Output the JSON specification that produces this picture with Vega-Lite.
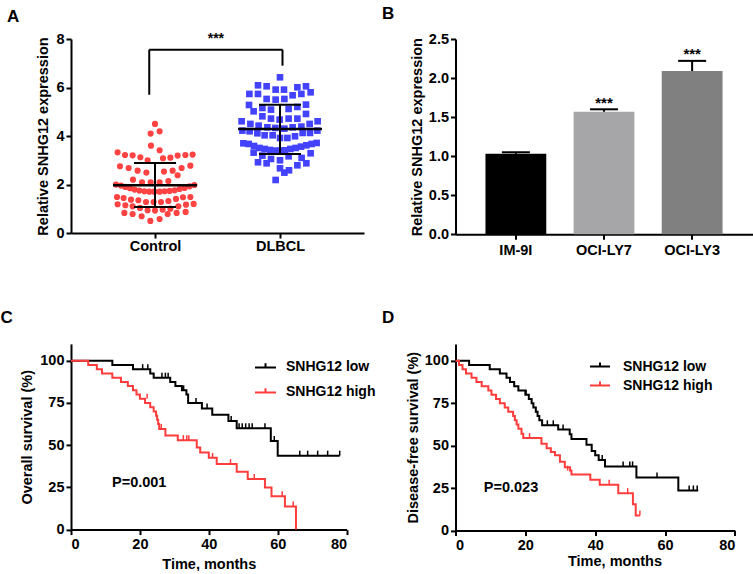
{
  "$schema": "https://vega.github.io/schema/vega-lite/v6.json",
  "padding": {"left": 0, "top": 5, "right": 0, "bottom": 0},
  "columns": 2,
  "align": "each",
  "bounds": "flush",
  "spacing": {"row": 108.9, "column": 91.5},
  "resolve": {"scale": {"color": "independent"}, "legend": {"color": "independent"}},
  "config": {
    "font": "Liberation Sans",
    "view": {"stroke": null},
    "axis": {"domainColor": "#000", "domainWidth": 2, "tickColor": "#000", "tickWidth": 2, "tickSize": 5, "labelFontWeight": "bold", "labelFontSize": 14.5, "labelColor": "#000", "titleFontWeight": "bold", "titleFontSize": 14.5, "titleColor": "#000", "grid": false, "labelPadding": 2, "titlePadding": 5},
    "title": {"fontSize": 17, "fontWeight": "bold", "color": "#000", "anchor": "start", "frame": "group"}
  },
  "datasets": {
    "control": [
      {"pos":1.000,"expr":4.497},{"pos":0.965,"expr":4.098},{"pos":1.037,"expr":4.194},{"pos":0.968,"expr":3.603},{"pos":1.037,"expr":3.411},
      {"pos":0.701,"expr":3.328},{"pos":0.760,"expr":3.218},{"pos":0.821,"expr":3.204},{"pos":0.883,"expr":3.122},{"pos":0.941,"expr":2.998},{"pos":1.064,"expr":3.081},{"pos":1.123,"expr":3.108},{"pos":1.181,"expr":3.191},{"pos":1.243,"expr":3.218},{"pos":1.301,"expr":3.232},
      {"pos":0.720,"expr":2.751},{"pos":0.789,"expr":2.682},{"pos":0.861,"expr":2.572},{"pos":0.931,"expr":2.490},{"pos":1.072,"expr":2.531},{"pos":1.141,"expr":2.572},{"pos":1.213,"expr":2.682},{"pos":1.283,"expr":2.778},{"pos":1.181,"expr":2.380},
      {"pos":0.824,"expr":2.201},{"pos":0.896,"expr":2.091},{"pos":0.965,"expr":2.091},{"pos":1.037,"expr":2.091},{"pos":1.107,"expr":2.146},
      {"pos":0.688,"expr":1.995},{"pos":0.728,"expr":1.954},{"pos":0.763,"expr":1.899},{"pos":0.800,"expr":1.844},{"pos":0.837,"expr":1.789},{"pos":0.875,"expr":1.748},{"pos":0.915,"expr":1.720},{"pos":0.955,"expr":1.706},{"pos":0.995,"expr":1.706},{"pos":1.037,"expr":1.706},{"pos":1.077,"expr":1.720},{"pos":1.117,"expr":1.734},{"pos":1.157,"expr":1.761},{"pos":1.197,"expr":1.816},{"pos":1.237,"expr":1.858},{"pos":1.277,"expr":1.926},{"pos":1.315,"expr":1.981},
      {"pos":0.696,"expr":1.486},{"pos":0.749,"expr":1.445},{"pos":0.808,"expr":1.376},{"pos":0.867,"expr":1.349},{"pos":0.928,"expr":1.280},{"pos":0.989,"expr":1.280},{"pos":1.048,"expr":1.280},{"pos":1.107,"expr":1.321},{"pos":1.168,"expr":1.404},{"pos":1.224,"expr":1.473},{"pos":1.283,"expr":1.486},
      {"pos":0.701,"expr":1.184},{"pos":0.763,"expr":1.143},{"pos":0.821,"expr":1.101},{"pos":0.880,"expr":1.033},{"pos":0.941,"expr":0.937},{"pos":1.000,"expr":0.923},{"pos":1.061,"expr":0.964},{"pos":1.123,"expr":1.005},{"pos":1.187,"expr":1.101},{"pos":1.248,"expr":1.170},{"pos":1.309,"expr":1.198},
      {"pos":0.755,"expr":0.827},{"pos":0.821,"expr":0.785},{"pos":0.893,"expr":0.689},{"pos":1.037,"expr":0.579},{"pos":1.101,"expr":0.785},{"pos":1.173,"expr":0.827},{"pos":1.245,"expr":0.868},{"pos":0.963,"expr":0.497}
    ],
    "dlbcl": [
      {"pos":2.000,"expr":6.421},
      {"pos":1.824,"expr":6.091},{"pos":1.893,"expr":6.050},{"pos":1.965,"expr":5.912},{"pos":2.032,"expr":5.912},{"pos":2.139,"expr":6.009},{"pos":2.208,"expr":6.050},{"pos":2.245,"expr":5.802},
      {"pos":1.755,"expr":5.734},{"pos":1.824,"expr":5.734},{"pos":1.893,"expr":5.528},{"pos":1.965,"expr":5.500},{"pos":2.035,"expr":5.528},{"pos":2.101,"expr":5.679},{"pos":2.171,"expr":5.734},
      {"pos":1.752,"expr":5.280},{"pos":1.789,"expr":5.019},{"pos":1.859,"expr":5.156},{"pos":1.928,"expr":5.088},{"pos":2.069,"expr":5.115},{"pos":2.139,"expr":5.198},{"pos":2.208,"expr":5.294},
      {"pos":1.859,"expr":4.813},{"pos":1.928,"expr":4.717},{"pos":1.997,"expr":4.675},{"pos":2.069,"expr":4.717},{"pos":2.139,"expr":4.717},{"pos":2.208,"expr":4.909},
      {"pos":1.693,"expr":4.607},{"pos":1.763,"expr":4.497},{"pos":1.829,"expr":4.428},{"pos":1.899,"expr":4.359},{"pos":1.963,"expr":4.332},{"pos":2.035,"expr":4.304},{"pos":2.101,"expr":4.359},{"pos":2.171,"expr":4.387},{"pos":2.237,"expr":4.497},{"pos":2.301,"expr":4.607},
      {"pos":1.699,"expr":4.222},{"pos":1.757,"expr":4.194},{"pos":1.819,"expr":4.112},{"pos":1.877,"expr":4.029},{"pos":1.941,"expr":4.029},{"pos":2.000,"expr":3.919},{"pos":2.059,"expr":3.919},{"pos":2.120,"expr":3.988},{"pos":2.181,"expr":4.126},{"pos":2.240,"expr":4.126},{"pos":2.299,"expr":4.222},
      {"pos":1.707,"expr":3.699},{"pos":1.749,"expr":3.672},{"pos":1.792,"expr":3.589},{"pos":1.835,"expr":3.507},{"pos":1.877,"expr":3.466},{"pos":1.920,"expr":3.425},{"pos":1.963,"expr":3.397},{"pos":2.000,"expr":3.397},{"pos":2.040,"expr":3.411},{"pos":2.083,"expr":3.466},{"pos":2.125,"expr":3.507},{"pos":2.168,"expr":3.562},{"pos":2.211,"expr":3.617},{"pos":2.253,"expr":3.672},{"pos":2.293,"expr":3.713},
      {"pos":1.789,"expr":3.314},{"pos":1.859,"expr":3.191},{"pos":1.928,"expr":3.053},{"pos":2.000,"expr":2.998},{"pos":2.069,"expr":3.163},{"pos":2.173,"expr":3.095},{"pos":2.245,"expr":3.287},
      {"pos":1.824,"expr":2.916},{"pos":1.893,"expr":2.875},{"pos":2.139,"expr":2.792},{"pos":2.211,"expr":2.875},
      {"pos":2.000,"expr":2.668},{"pos":2.072,"expr":2.586},{"pos":2.035,"expr":2.490},
      {"pos":1.965,"expr":2.187}
    ],
    "summary": [
      {"group":"Control","pos":1,"mean":1.97,"sdLow":1.07,"sdHigh":2.89},
      {"group":"DLBCL","pos":2,"mean":4.29,"sdLow":3.26,"sdHigh":5.29}
    ],
    "bracket": [
      {"left":0.954,"right":2.02,"mid":1.487,"top":7.56,"leftEnd":5.7,"rightEnd":6.9,"label":"***"}
    ],
    "cells": [
      {"line":"IM-9I","mean":1.03,"upper":1.05,"sig":""},
      {"line":"OCI-LY7","mean":1.57,"upper":1.60,"sig":"***"},
      {"line":"OCI-LY3","mean":2.09,"upper":2.22,"sig":"***"}
    ],
    "osCurve": [
      {"group":"SNHG12 low","t":0,"s":100},{"group":"SNHG12 low","t":12,"s":97.5},{"group":"SNHG12 low","t":18,"s":95},{"group":"SNHG12 low","t":23,"s":92.5},{"group":"SNHG12 low","t":24,"s":90},{"group":"SNHG12 low","t":28.8,"s":87.5},{"group":"SNHG12 low","t":30.3,"s":85},{"group":"SNHG12 low","t":32.2,"s":82.5},{"group":"SNHG12 low","t":33.5,"s":80},{"group":"SNHG12 low","t":34,"s":75},{"group":"SNHG12 low","t":38,"s":71.8},{"group":"SNHG12 low","t":41,"s":68},{"group":"SNHG12 low","t":45.7,"s":64.3},{"group":"SNHG12 low","t":48.1,"s":60},{"group":"SNHG12 low","t":58,"s":52.5},{"group":"SNHG12 low","t":60,"s":43.8},{"group":"SNHG12 low","t":78,"s":43.8},
      {"group":"SNHG12 high","t":0,"s":100},{"group":"SNHG12 high","t":5,"s":97.5},{"group":"SNHG12 high","t":7.5,"s":95},{"group":"SNHG12 high","t":9,"s":92.5},{"group":"SNHG12 high","t":12,"s":90},{"group":"SNHG12 high","t":14.5,"s":87.5},{"group":"SNHG12 high","t":16.5,"s":85},{"group":"SNHG12 high","t":18,"s":82.5},{"group":"SNHG12 high","t":19,"s":80},{"group":"SNHG12 high","t":20,"s":77.5},{"group":"SNHG12 high","t":21.5,"s":75},{"group":"SNHG12 high","t":23,"s":72.5},{"group":"SNHG12 high","t":24,"s":70},{"group":"SNHG12 high","t":24.7,"s":67.5},{"group":"SNHG12 high","t":25,"s":65},{"group":"SNHG12 high","t":25.3,"s":62.5},{"group":"SNHG12 high","t":25.6,"s":59.6},{"group":"SNHG12 high","t":27.4,"s":55.8},{"group":"SNHG12 high","t":31,"s":53},{"group":"SNHG12 high","t":36.5,"s":48.7},{"group":"SNHG12 high","t":37.5,"s":45.7},{"group":"SNHG12 high","t":40,"s":42.5},{"group":"SNHG12 high","t":42.3,"s":38.8},{"group":"SNHG12 high","t":48.1,"s":34.2},{"group":"SNHG12 high","t":51.3,"s":30},{"group":"SNHG12 high","t":56.3,"s":25},{"group":"SNHG12 high","t":58.2,"s":19.8},{"group":"SNHG12 high","t":62.1,"s":13.7},{"group":"SNHG12 high","t":65.3,"s":0}
    ],
    "osCensor": [
      {"group":"SNHG12 low","t":20.8,"s":95},{"group":"SNHG12 low","t":22.3,"s":95},{"group":"SNHG12 low","t":26.4,"s":90},{"group":"SNHG12 low","t":27.4,"s":90},{"group":"SNHG12 low","t":28.2,"s":90},{"group":"SNHG12 low","t":32.7,"s":82.5},{"group":"SNHG12 low","t":36.3,"s":75},{"group":"SNHG12 low","t":39.5,"s":71.8},{"group":"SNHG12 low","t":46.5,"s":64.3},{"group":"SNHG12 low","t":48.8,"s":60},{"group":"SNHG12 low","t":49.7,"s":60},{"group":"SNHG12 low","t":50.7,"s":60},{"group":"SNHG12 low","t":51.7,"s":60},{"group":"SNHG12 low","t":52.6,"s":60},{"group":"SNHG12 low","t":56.3,"s":60},{"group":"SNHG12 low","t":59,"s":52.5},{"group":"SNHG12 low","t":66.4,"s":43.8},{"group":"SNHG12 low","t":68.7,"s":43.8},{"group":"SNHG12 low","t":71.6,"s":43.8},{"group":"SNHG12 low","t":74.5,"s":43.8},{"group":"SNHG12 low","t":78,"s":43.8},
      {"group":"SNHG12 high","t":22.1,"s":77.5},{"group":"SNHG12 high","t":26.2,"s":59.6},{"group":"SNHG12 high","t":32.6,"s":53},{"group":"SNHG12 high","t":33.6,"s":53},{"group":"SNHG12 high","t":34.2,"s":53},{"group":"SNHG12 high","t":41.1,"s":42.5},{"group":"SNHG12 high","t":46.3,"s":38.8},{"group":"SNHG12 high","t":53.2,"s":30},{"group":"SNHG12 high","t":61.3,"s":19.8},{"group":"SNHG12 high","t":64.5,"s":13.7}
    ],
    "dfsCurve": [
      {"group":"SNHG12 low","t":0,"s":100},{"group":"SNHG12 low","t":3.9,"s":97.5},{"group":"SNHG12 low","t":9.8,"s":95},{"group":"SNHG12 low","t":12.7,"s":92.5},{"group":"SNHG12 low","t":14.6,"s":90},{"group":"SNHG12 low","t":15.6,"s":87.5},{"group":"SNHG12 low","t":16.8,"s":85},{"group":"SNHG12 low","t":18,"s":82.5},{"group":"SNHG12 low","t":20,"s":80},{"group":"SNHG12 low","t":21,"s":77.5},{"group":"SNHG12 low","t":21.8,"s":75},{"group":"SNHG12 low","t":22.3,"s":72.5},{"group":"SNHG12 low","t":23,"s":70},{"group":"SNHG12 low","t":23.5,"s":67.5},{"group":"SNHG12 low","t":24,"s":65},{"group":"SNHG12 low","t":24.8,"s":62},{"group":"SNHG12 low","t":29.4,"s":59.6},{"group":"SNHG12 low","t":32.7,"s":56.7},{"group":"SNHG12 low","t":33.2,"s":53.9},{"group":"SNHG12 low","t":37.5,"s":50.5},{"group":"SNHG12 low","t":39,"s":46.8},{"group":"SNHG12 low","t":40,"s":44.3},{"group":"SNHG12 low","t":41,"s":41.5},{"group":"SNHG12 low","t":42.8,"s":37.8},{"group":"SNHG12 low","t":51.8,"s":31.2},{"group":"SNHG12 low","t":63.8,"s":23.6},{"group":"SNHG12 low","t":69.5,"s":23.6},
      {"group":"SNHG12 high","t":0,"s":100},{"group":"SNHG12 high","t":1,"s":97.5},{"group":"SNHG12 high","t":2,"s":95},{"group":"SNHG12 high","t":3,"s":92.5},{"group":"SNHG12 high","t":4.6,"s":90},{"group":"SNHG12 high","t":6,"s":87.5},{"group":"SNHG12 high","t":7.5,"s":85},{"group":"SNHG12 high","t":9.4,"s":82.5},{"group":"SNHG12 high","t":10.3,"s":80},{"group":"SNHG12 high","t":11.6,"s":77.5},{"group":"SNHG12 high","t":12.7,"s":75},{"group":"SNHG12 high","t":14.1,"s":72.5},{"group":"SNHG12 high","t":15.1,"s":70},{"group":"SNHG12 high","t":16.5,"s":67.5},{"group":"SNHG12 high","t":17,"s":65},{"group":"SNHG12 high","t":17.5,"s":62.5},{"group":"SNHG12 high","t":18,"s":60},{"group":"SNHG12 high","t":18.9,"s":57},{"group":"SNHG12 high","t":19.4,"s":54.5},{"group":"SNHG12 high","t":24.6,"s":51.2},{"group":"SNHG12 high","t":26.1,"s":48.5},{"group":"SNHG12 high","t":27.3,"s":46.3},{"group":"SNHG12 high","t":28.5,"s":44.3},{"group":"SNHG12 high","t":29.9,"s":40.5},{"group":"SNHG12 high","t":31.3,"s":37.3},{"group":"SNHG12 high","t":32.8,"s":35.3},{"group":"SNHG12 high","t":33.2,"s":33},{"group":"SNHG12 high","t":38.6,"s":29.9},{"group":"SNHG12 high","t":41.3,"s":27},{"group":"SNHG12 high","t":46.6,"s":22},{"group":"SNHG12 high","t":50.8,"s":15.5},{"group":"SNHG12 high","t":51.6,"s":8.8},{"group":"SNHG12 high","t":52.8,"s":8.8}
    ],
    "dfsCensor": [
      {"group":"SNHG12 low","t":20.2,"s":80},{"group":"SNHG12 low","t":26.3,"s":62},{"group":"SNHG12 low","t":28,"s":62},{"group":"SNHG12 low","t":30.8,"s":59.6},{"group":"SNHG12 low","t":42,"s":41.5},{"group":"SNHG12 low","t":48,"s":37.8},{"group":"SNHG12 low","t":49.9,"s":37.8},{"group":"SNHG12 low","t":50.7,"s":37.8},{"group":"SNHG12 low","t":57.7,"s":31.2},{"group":"SNHG12 low","t":66.9,"s":23.6},{"group":"SNHG12 low","t":68.1,"s":23.6},{"group":"SNHG12 low","t":69.2,"s":23.6},
      {"group":"SNHG12 high","t":21.2,"s":54.5},{"group":"SNHG12 high","t":32.1,"s":35.3},{"group":"SNHG12 high","t":44,"s":27},{"group":"SNHG12 high","t":49.3,"s":22},{"group":"SNHG12 high","t":52.8,"s":8.8}
    ]
  },
  "concat": [
    {
      "width": 293, "height": 194,
      "title": {"text": "A", "dx": -64, "offset": 5},
      "layer": [
        {
          "data": {"name": "control"},
          "mark": {"type": "point", "shape": "circle", "filled": true, "color": "#ff4242", "opacity": 1, "size": 38},
          "encoding": {
            "x": {"field": "pos", "type": "quantitative", "scale": {"domain": [0.328, 2.672], "nice": false, "zero": false}, "axis": {"values": [1, 2], "labelExpr": "datum.value == 1 ? 'Control' : 'DLBCL'", "title": null, "labelPadding": 1}},
            "y": {"field": "expr", "type": "quantitative", "scale": {"domain": [0, 8], "nice": false}, "axis": {"values": [0, 2, 4, 6, 8], "title": "Relative SNHG12 expression", "titlePadding": 5}}
          }
        },
        {
          "data": {"name": "dlbcl"},
          "mark": {"type": "point", "shape": "square", "filled": true, "color": "#4242ff", "opacity": 1, "size": 44},
          "encoding": {
            "x": {"field": "pos", "type": "quantitative"},
            "y": {"field": "expr", "type": "quantitative"}
          }
        },
        {
          "data": {"name": "summary"},
          "mark": {"type": "tick", "orient": "horizontal", "size": 84, "thickness": 2.5, "color": "#000", "opacity": 1},
          "encoding": {"x": {"field": "pos", "type": "quantitative"}, "y": {"field": "mean", "type": "quantitative"}}
        },
        {
          "data": {"name": "summary"},
          "mark": {"type": "tick", "orient": "horizontal", "size": 42, "thickness": 2, "color": "#000", "opacity": 1},
          "encoding": {"x": {"field": "pos", "type": "quantitative"}, "y": {"field": "sdLow", "type": "quantitative"}}
        },
        {
          "data": {"name": "summary"},
          "mark": {"type": "tick", "orient": "horizontal", "size": 42, "thickness": 2, "color": "#000", "opacity": 1},
          "encoding": {"x": {"field": "pos", "type": "quantitative"}, "y": {"field": "sdHigh", "type": "quantitative"}}
        },
        {
          "data": {"name": "summary"},
          "mark": {"type": "rule", "strokeWidth": 2, "color": "#000"},
          "encoding": {"x": {"field": "pos", "type": "quantitative"}, "y": {"field": "sdLow", "type": "quantitative"}, "y2": {"field": "sdHigh"}}
        },
        {
          "data": {"name": "bracket"},
          "mark": {"type": "rule", "strokeWidth": 2, "color": "#000"},
          "encoding": {"x": {"field": "left", "type": "quantitative"}, "x2": {"field": "right"}, "y": {"field": "top", "type": "quantitative"}}
        },
        {
          "data": {"name": "bracket"},
          "mark": {"type": "rule", "strokeWidth": 2, "color": "#000"},
          "encoding": {"x": {"field": "left", "type": "quantitative"}, "y": {"field": "leftEnd", "type": "quantitative"}, "y2": {"field": "top"}}
        },
        {
          "data": {"name": "bracket"},
          "mark": {"type": "rule", "strokeWidth": 2, "color": "#000"},
          "encoding": {"x": {"field": "right", "type": "quantitative"}, "y": {"field": "rightEnd", "type": "quantitative"}, "y2": {"field": "top"}}
        },
        {
          "data": {"name": "bracket"},
          "mark": {"type": "text", "fontSize": 14, "fontWeight": "bold", "color": "#000", "baseline": "alphabetic", "dy": -7},
          "encoding": {"x": {"field": "mid", "type": "quantitative"}, "y": {"field": "top", "type": "quantitative"}, "text": {"field": "label"}}
        }
      ]
    },
    {
      "width": 297, "height": 195.3,
      "title": {"text": "B", "dx": -73.5, "offset": 8},
      "data": {"name": "cells"},
      "encoding": {
        "x": {"field": "line", "type": "nominal", "sort": null, "scale": {"paddingInner": 0.31, "paddingOuter": 0.34}, "axis": {"title": null, "labelAngle": 0, "labelPadding": 4}}
      },
      "layer": [
        {
          "mark": {"type": "bar"},
          "encoding": {
            "y": {"field": "mean", "type": "quantitative", "scale": {"domain": [0, 2.5], "nice": false}, "axis": {"values": [0, 0.5, 1, 1.5, 2, 2.5], "format": ".1f", "title": "Relative SNHG12 expression", "titlePadding": 4, "labelOverlap": false}},
            "color": {"field": "line", "type": "nominal", "scale": {"domain": ["IM-9I", "OCI-LY7", "OCI-LY3"], "range": ["#000000", "#a6a6a9", "#808080"]}, "legend": null}
          }
        },
        {
          "mark": {"type": "rule", "strokeWidth": 2, "color": "#000"},
          "encoding": {"y": {"field": "mean", "type": "quantitative", "axis": {"values": [0, 0.5, 1, 1.5, 2, 2.5], "format": ".1f", "title": "Relative SNHG12 expression", "titlePadding": 4, "labelOverlap": false}}, "y2": {"field": "upper"}}
        },
        {
          "mark": {"type": "tick", "orient": "horizontal", "size": 28, "thickness": 2, "color": "#000", "opacity": 1},
          "encoding": {"y": {"field": "upper", "type": "quantitative", "axis": {"values": [0, 0.5, 1, 1.5, 2, 2.5], "format": ".1f", "title": "Relative SNHG12 expression", "titlePadding": 4, "labelOverlap": false}}}
        },
        {
          "mark": {"type": "text", "fontSize": 15, "fontWeight": "bold", "color": "#000", "baseline": "alphabetic", "dy": -1.5},
          "encoding": {"y": {"field": "upper", "type": "quantitative", "axis": {"values": [0, 0.5, 1, 1.5, 2, 2.5], "format": ".1f", "title": "Relative SNHG12 expression", "titlePadding": 4, "labelOverlap": false}}, "text": {"field": "sig"}}
        }
      ]
    },
    {
      "width": 275.6, "height": 185.7,
      "title": {"text": "C", "dx": -70.5, "offset": 17},
      "layer": [
        {
          "data": {"name": "osCurve"},
          "mark": {"type": "line", "interpolate": "step-after", "strokeWidth": 2},
          "encoding": {
            "x": {"field": "t", "type": "quantitative", "scale": {"domain": [0, 80], "nice": false}, "axis": {"values": [0, 20, 40, 60, 80], "title": "Time, months", "labelPadding": 3, "titlePadding": 6}},
            "y": {"field": "s", "type": "quantitative", "scale": {"domain": [0, 110], "nice": false}, "axis": {"values": [0, 25, 50, 75, 100], "title": "Overall survival (%)", "titlePadding": 5}},
            "color": {"field": "group", "type": "nominal", "scale": {"domain": ["SNHG12 low", "SNHG12 high"], "range": ["#000000", "#ff3c3c"]},
              "legend": {"orient": "none", "legendX": 183, "legendY": 12, "title": null, "symbolType": "M-1,0H1M0,0V-0.4", "symbolSize": 441, "symbolStrokeWidth": 2, "labelFontSize": 14, "labelFontWeight": "bold", "labelColor": "#000", "labelOffset": 9, "rowPadding": 6, "padding": 0}}
          }
        },
        {
          "data": {"name": "osCensor"},
          "mark": {"type": "tick", "orient": "vertical", "size": 5, "thickness": 1.5, "yOffset": -2.5, "opacity": 1},
          "encoding": {
            "x": {"field": "t", "type": "quantitative"},
            "y": {"field": "s", "type": "quantitative"},
            "color": {"field": "group", "type": "nominal", "legend": {"orient": "none", "legendX": 183, "legendY": 12, "title": null, "symbolType": "M-1,0H1M0,0V-0.4", "symbolSize": 441, "symbolStrokeWidth": 2, "labelFontSize": 14, "labelFontWeight": "bold", "labelColor": "#000", "labelOffset": 9, "rowPadding": 6, "padding": 0}}
          }
        },
        {
          "data": {"values": [{"t": 11.9, "s": 27.6, "label": "P=0.001"}]},
          "mark": {"type": "text", "align": "left", "baseline": "middle", "fontSize": 14.5, "fontWeight": "bold", "color": "#000"},
          "encoding": {"x": {"field": "t", "type": "quantitative"}, "y": {"field": "s", "type": "quantitative"}, "text": {"field": "label"}}
        }
      ]
    },
    {
      "width": 279.4, "height": 186.6,
      "title": {"text": "D", "dx": -73.5, "offset": 17},
      "layer": [
        {
          "data": {"name": "dfsCurve"},
          "mark": {"type": "line", "interpolate": "step-after", "strokeWidth": 2},
          "encoding": {
            "x": {"field": "t", "type": "quantitative", "scale": {"domain": [0, 80], "nice": false}, "axis": {"values": [0, 20, 40, 60, 80], "title": "Time, months", "labelPadding": 3, "titlePadding": 2, "titleX": 159, "titleAlign": "center"}},
            "y": {"field": "s", "type": "quantitative", "scale": {"domain": [0, 110], "nice": false}, "axis": {"values": [0, 25, 50, 75, 100], "title": "Disease-free survival (%)", "titlePadding": 4}},
            "color": {"field": "group", "type": "nominal", "scale": {"domain": ["SNHG12 low", "SNHG12 high"], "range": ["#000000", "#ff3c3c"]},
              "legend": {"orient": "none", "legendX": 133.5, "legendY": 11.7, "title": null, "symbolType": "M-1,0H1M0,0V-0.4", "symbolSize": 400, "symbolStrokeWidth": 2, "labelFontSize": 14, "labelFontWeight": "bold", "labelColor": "#000", "labelOffset": 12, "rowPadding": 1, "padding": 0}}
          }
        },
        {
          "data": {"name": "dfsCensor"},
          "mark": {"type": "tick", "orient": "vertical", "size": 5, "thickness": 1.5, "yOffset": -2.5, "opacity": 1},
          "encoding": {
            "x": {"field": "t", "type": "quantitative"},
            "y": {"field": "s", "type": "quantitative"},
            "color": {"field": "group", "type": "nominal", "legend": {"orient": "none", "legendX": 133.5, "legendY": 11.7, "title": null, "symbolType": "M-1,0H1M0,0V-0.4", "symbolSize": 400, "symbolStrokeWidth": 2, "labelFontSize": 14, "labelFontWeight": "bold", "labelColor": "#000", "labelOffset": 12, "rowPadding": 1, "padding": 0}}
          }
        },
        {
          "data": {"values": [{"t": 8.1, "s": 24.9, "label": "P=0.023"}]},
          "mark": {"type": "text", "align": "left", "baseline": "middle", "fontSize": 14.5, "fontWeight": "bold", "color": "#000"},
          "encoding": {"x": {"field": "t", "type": "quantitative"}, "y": {"field": "s", "type": "quantitative"}, "text": {"field": "label"}}
        }
      ]
    }
  ]
}
